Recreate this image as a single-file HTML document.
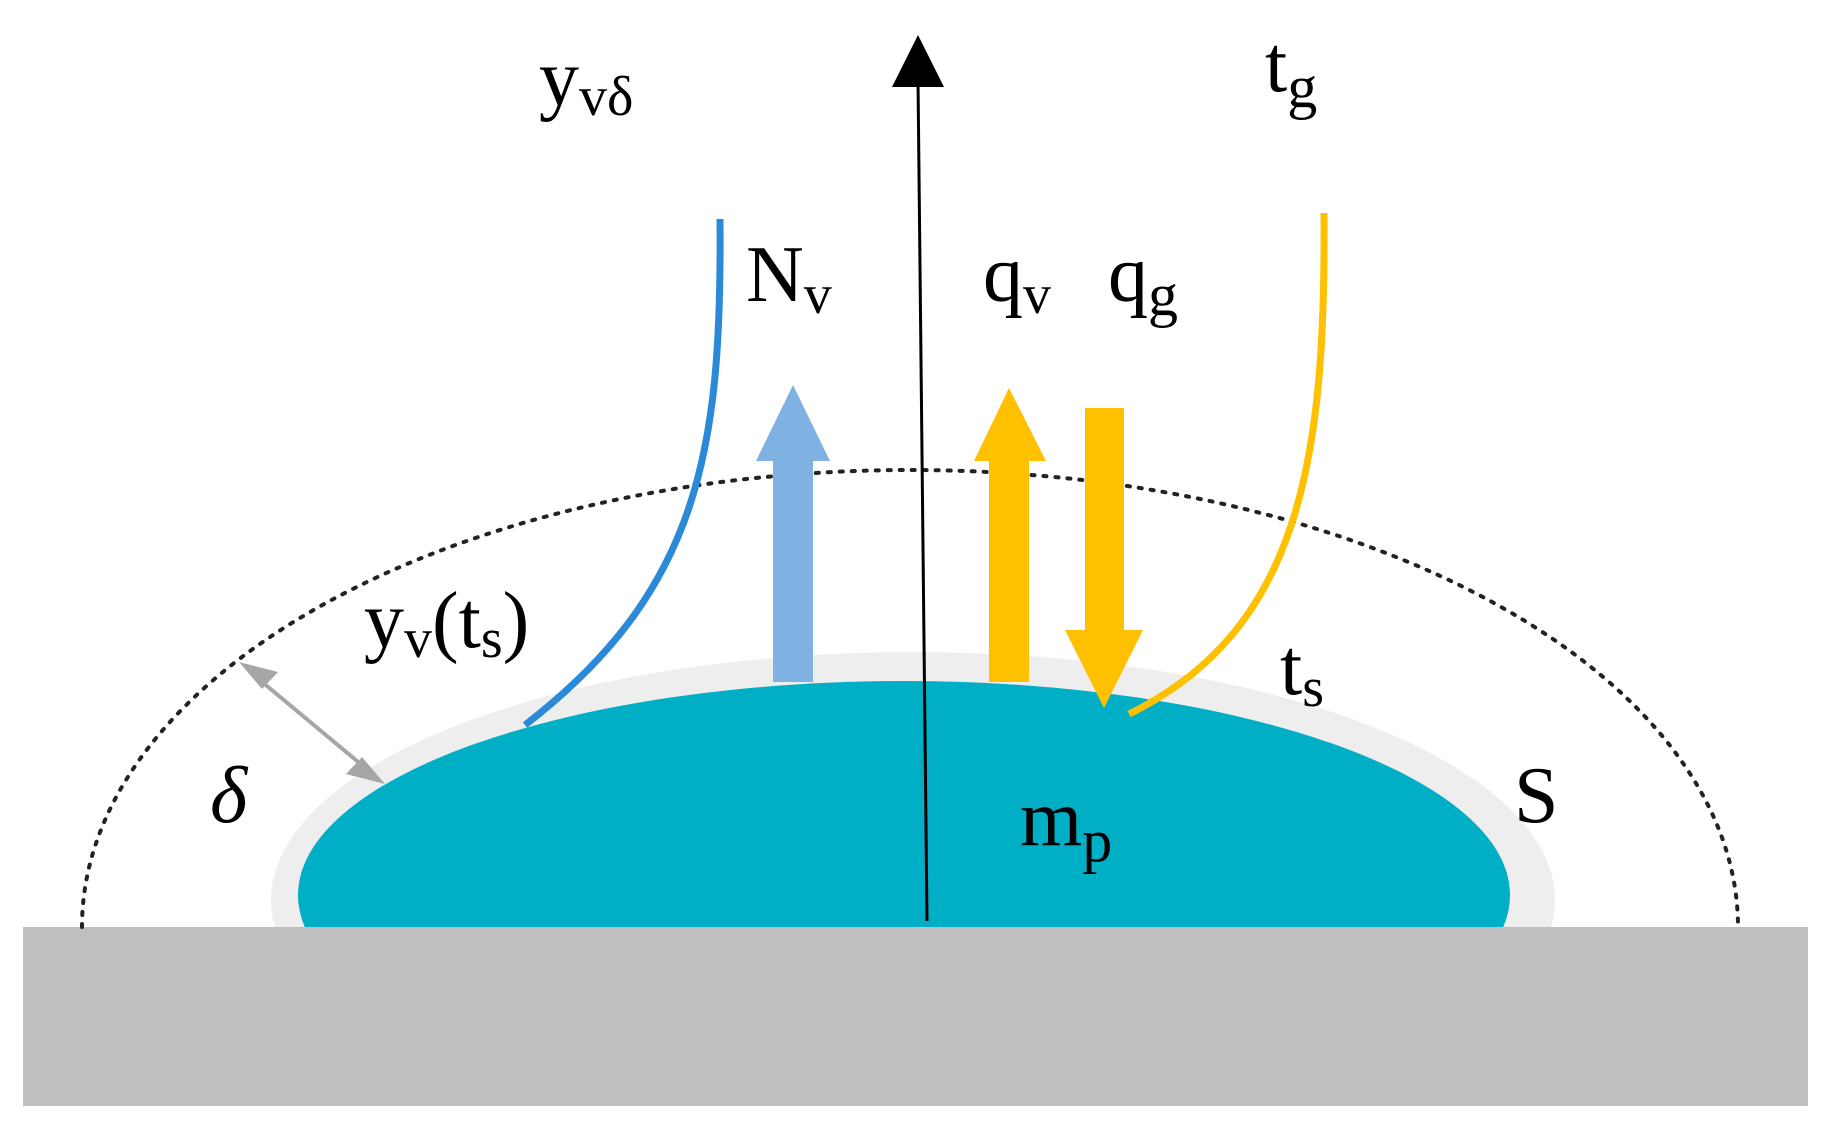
<!DOCTYPE html>
<html><head><meta charset="utf-8"><style>html,body{margin:0;padding:0;background:#fff}svg{display:block}text{font-family:"Liberation Serif",serif;fill:#000}</style></head>
<body>
<svg width="1824" height="1125" viewBox="0 0 1824 1125" xmlns="http://www.w3.org/2000/svg">
<ellipse cx="913" cy="900" rx="642" ry="248" fill="#eeeeee"/>
<ellipse cx="904" cy="895" rx="606" ry="214" fill="#00afc6"/>
<rect x="0" y="927" width="1824" height="198" fill="#fff"/>
<rect x="23" y="927" width="1785" height="179" fill="#bfbfbf"/>
<path d="M82 927 A828 457 0 0 1 1738 927" fill="none" stroke="#222" stroke-width="4" stroke-dasharray="3 9" stroke-linecap="round"/>
<line x1="927" y1="921" x2="918" y2="80" stroke="#000" stroke-width="3"/>
<polygon points="918,35 892,87 944,87" fill="#000"/>
<path d="M720 219 C722 450 700 590 525 725" fill="none" stroke="#2a8ad8" stroke-width="7"/>
<path d="M1324 213 C1326 460 1300 630 1129 714" fill="none" stroke="#ffc000" stroke-width="7"/>
<rect x="773" y="461" width="40" height="221" fill="#7fb2e3"/>
<polygon points="793,385 756,461 830,461" fill="#7fb2e3"/>
<rect x="989" y="461" width="40" height="221" fill="#ffc000"/>
<polygon points="1009,388 974,461 1046,461" fill="#ffc000"/>
<rect x="1085" y="408" width="39" height="222" fill="#ffc000"/>
<polygon points="1104,708 1065,630 1143,630" fill="#ffc000"/>
<line x1="255" y1="676" x2="369" y2="771" stroke="#a6a6a6" stroke-width="4"/>
<polygon points="239,662 278,672 262,689" fill="#a6a6a6"/>
<polygon points="385,784 346,774 362,757" fill="#a6a6a6"/>
<text x="539" y="105" font-size="80">y<tspan font-size="56" dy="10">vδ</tspan></text>
<text x="1265" y="91" font-size="80">t<tspan font-size="60" dy="16">g</tspan></text>
<text x="746" y="301" font-size="80">N<tspan font-size="56" dy="12">v</tspan></text>
<text x="983" y="301" font-size="80">q<tspan font-size="56" dy="12">v</tspan></text>
<text x="1108" y="301" font-size="80">q<tspan font-size="60" dy="14">g</tspan></text>
<text x="364" y="647" font-size="80">y<tspan font-size="56" dy="10">v</tspan><tspan dy="-10">(t</tspan><tspan font-size="56" dy="10">s</tspan><tspan dy="-10">)</tspan></text>
<text x="1280" y="694" font-size="80">t<tspan font-size="56" dy="12">s</tspan></text>
<text x="210" y="822" font-size="80" font-style="italic">δ</text>
<text x="1514" y="822" font-size="80">S</text>
<text x="1020" y="845" font-size="80">m<tspan font-size="60" dy="16">p</tspan></text>
</svg>
</body></html>
